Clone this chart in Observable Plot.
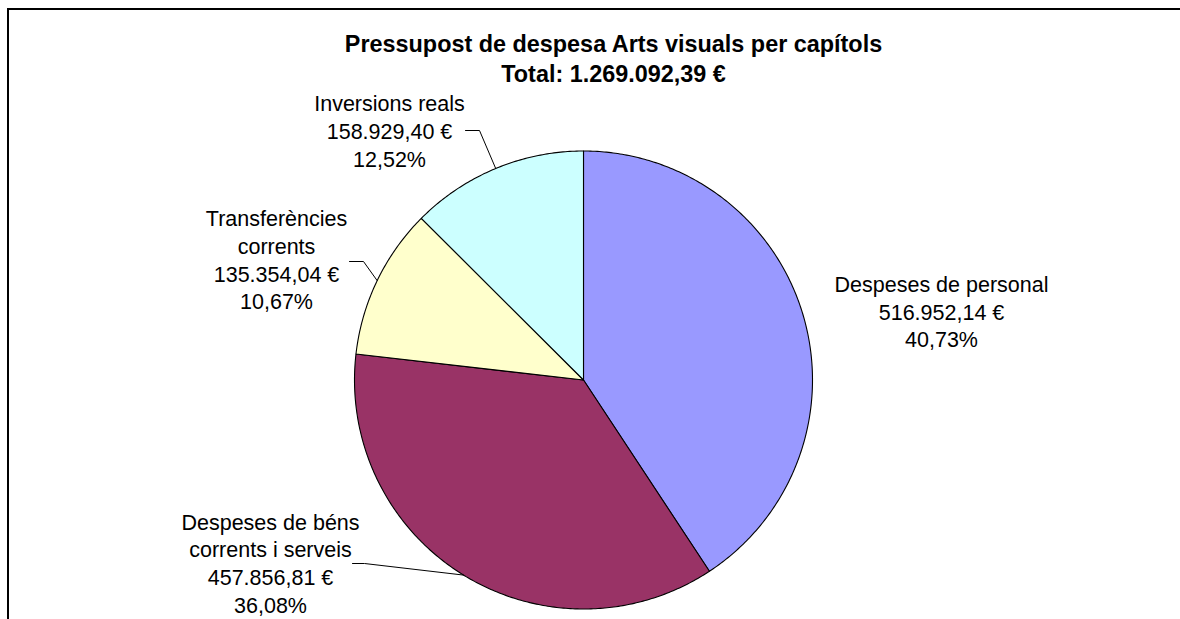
<!DOCTYPE html>
<html><head><meta charset="utf-8">
<script src="https://cdn.jsdelivr.net/npm/d3@7"></script>
<script src="https://cdn.jsdelivr.net/npm/@observablehq/plot@0.6"></script>
<style>
  html,body{margin:0;padding:0;background:#fff;}
  #wrap{position:relative;width:1180px;height:619px;overflow:hidden;}
  #frame{position:absolute;left:7px;top:8px;right:-10px;bottom:-10px;border-top:2px solid #000;border-left:2px solid #000;pointer-events:none;}
  #chart svg{display:block;}
</style>
</head><body>
<div id="wrap"><div id="chart"></div><div id="frame"></div></div>
<script>
// ---- data ----
const categories = ["Despeses de personal", "Despeses de béns corrents i serveis", "Transferències corrents", "Inversions reals"];
const labelNames = [["Despeses de personal"], ["Despeses de béns", "corrents i serveis"], ["Transferències", "corrents"], ["Inversions reals"]];
const values = [516952.14, 457856.81, 135354.04, 158929.40];
const colors = ["#9999FF", "#993366", "#FFFFCC", "#CCFFFF"];
const titleLine = "Pressupost de despesa Arts visuals per capítols";

// ---- layout ----
const W = 1180, H = 619;
const cx = 583, cy = 379.5, R = 229;
const labelAnchor = [[941, 284.6], [270, 522.3], [276, 219], [389, 104]];
const leaderStart = [null, [352, 563], [349, 261], [465, 130]];
const leaderKnee  = [null, [364, 563], [363, 261], [479, 130]];
const lineH = 27.7;
const FONT = "'Liberation Sans', Arial, Helvetica, sans-serif";

const loc = d3.formatLocale({decimal: ",", thousands: ".", grouping: [3], currency: ["", " €"]});
const fmtMoney = loc.format(",.2f");
const fmtPct = loc.format(".2%");
const total = d3.sum(values);

const arcs = d3.pie().sort(null).value(d => d)(values);
const pt = (a, r) => [cx + r * Math.sin(a), cy - r * Math.cos(a)];

// slice polygons
const slicePts = [];
arcs.forEach((a, i) => {
  const n = Math.max(8, Math.ceil((a.endAngle - a.startAngle) / 0.01));
  const ring = [[cx, cy]];
  for (let k = 0; k <= n; k++) ring.push(pt(a.startAngle + (a.endAngle - a.startAngle) * k / n, R));
  ring.push([cx, cy]);
  ring.forEach(([x, y]) => slicePts.push({cat: categories[i], x, y}));
});

// labels
const labelRows = [];
arcs.forEach((a, i) => {
  const lines = [...labelNames[i], fmtMoney(values[i]) + " €", fmtPct(values[i] / total)];
  lines.forEach((t, k) => labelRows.push({x: labelAnchor[i][0], y: labelAnchor[i][1] + k * lineH, t}));
});

// leader lines
const leaderPts = [];
arcs.forEach((a, i) => {
  if (!leaderStart[i]) return;
  const mid = (a.startAngle + a.endAngle) / 2;
  const [ex, ey] = pt(mid, R);
  [leaderStart[i], leaderKnee[i], [ex, ey]].forEach(([x, y]) => leaderPts.push({cat: categories[i], x, y}));
});

const titleRows = [
  {x: 613, y: 44, t: titleLine},
  {x: 613, y: 74, t: "Total: " + fmtMoney(total) + " €"}
];

const chart = Plot.plot({
  width: W, height: H,
  margin: 0,
  style: {fontFamily: FONT, background: "#fff", color: "#000"},
  x: {domain: [0, W], range: [0, W], axis: null},
  y: {domain: [0, H], range: [0, H], axis: null},
  color: {domain: categories, range: colors},
  marks: [
    Plot.line(slicePts, {x: "x", y: "y", z: "cat", fill: "cat", stroke: "#000", strokeWidth: 1.1, strokeLinejoin: "round", curve: "linear"}),
    Plot.line(leaderPts, {x: "x", y: "y", z: "cat", stroke: "#000", strokeWidth: 1, curve: "linear"}),
    Plot.text(labelRows, {x: "x", y: "y", text: "t", fontSize: 21.5, fill: "#000", textAnchor: "middle", fontFamily: FONT}),
    Plot.text(titleRows, {x: "x", y: "y", text: "t", fontSize: 23.4, fontWeight: "bold", fill: "#000", textAnchor: "middle", fontFamily: FONT})
  ]
});
document.getElementById("chart").appendChild(chart);
</script>
</body></html>
